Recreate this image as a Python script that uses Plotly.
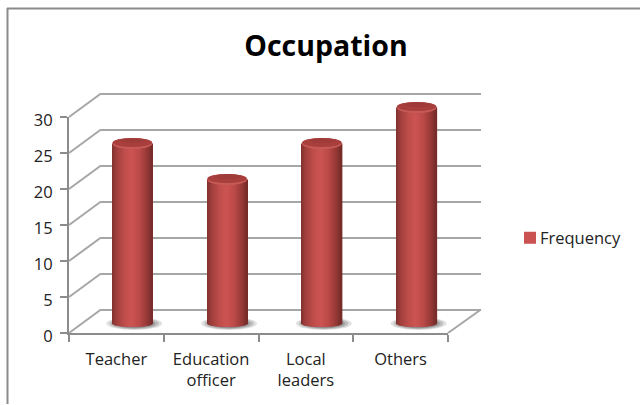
import math
import plotly.graph_objects as go

categories = ["Teacher", "Education<br>officer", "Local<br>leaders", "Others"]
frequency = [25, 20, 25, 30]
y_ticks = [0, 5, 10, 15, 20, 25, 30]
series_name = "Frequency"
title_text = "Occupation"

W, H = 640, 405
FONT = "'Open Sans', 'Noto Sans', sans-serif"
TXT = "#222222"
AXC = "#8c8c8c"
GRID = "#a6a6a6"

def px(x): return x / W
def py(y): return 1 - y / H

# frame in pixels: front plane, cylinder plane, back wall
FX0, FX1, FY0, FY1 = 69, 448, 333, 117
BX0, BX1, BY0, BY1 = 101, 481, 309.5, 93.5
CDX, CY0 = 16, 323.5
U = (FY0 - FY1) / 30          # px per value unit
XU = (FX1 - FX0) / 4          # px per category
PAD = 6                       # extra value units around the cylinder plane
WALL_PAD = 1                  # keeps the 0 and 30 gridlines inside the wall's range

fig = go.Figure()

# back wall subplot carries the native gridlines
fig.add_trace(go.Scatter(x=list(range(len(categories))), y=frequency, xaxis="x", yaxis="y", mode="markers",
                         marker=dict(opacity=0), showlegend=False, hoverinfo="skip"))

# cylinder shading profile (t in -1..1 -> colour)
stops = [(-1.0, (128, 48, 46)), (-0.78, (160, 62, 60)), (-0.35, (192, 78, 76)),
         (-0.02, (204, 84, 82)), (0.35, (188, 74, 72)), (0.75, (150, 56, 54)),
         (1.0, (116, 43, 41))]

def shade(t):
    for (a, ca), (b, cb) in zip(stops, stops[1:]):
        if a <= t <= b:
            f = (t - a) / (b - a)
            return "rgb(%d,%d,%d)" % tuple(round(ca[k] + (cb[k] - ca[k]) * f) for k in range(3))
    return "rgb(120,45,43)"

HALF = 20 / XU
BOT_H = 3.4 / U
N = 40
xs = list(range(len(categories)))
for i in range(N):
    t = -1 + (i + 0.5) * 2 / N
    w = 2 * HALF / N
    drop = BOT_H * math.sqrt(max(0, 1 - t * t))
    fig.add_trace(go.Bar(
        x=xs, y=[v + drop for v in frequency], base=[-drop] * len(frequency),
        width=w * 1.5, offset=t * HALF - w / 2,
        marker=dict(color=shade(t), line=dict(width=0)),
        xaxis="x2", yaxis="y2", cliponaxis=False, hoverinfo="skip",
        showlegend=(i == N // 2), name=series_name))

shapes = []
# shadows + caps, positioned from the data
CAP_H = 5.6 / U
for i, v in zip(xs, frequency):
    for k, op in zip((1.0, 0.88, 0.76, 0.64), (0.18, 0.25, 0.3, 0.35)):
        shapes.append(dict(type="circle", xref="x2", yref="y2", layer="below",
                           x0=i + 0.02 - 28 * k / XU, x1=i + 0.02 + 28 * k / XU,
                           y0=-6.5 * k / U, y1=6.5 * k / U,
                           fillcolor="#555555", opacity=op, line_width=0))
    shapes.append(dict(type="circle", xref="x2", yref="y2", layer="above",
                       x0=i - HALF, x1=i + HALF, y0=v - CAP_H, y1=v + CAP_H,
                       fillcolor="#c65a57", line_width=0))
    shapes.append(dict(type="circle", xref="x2", yref="y2", layer="above",
                       x0=i - HALF * 0.98, x1=i + HALF * 0.98,
                       y0=v - CAP_H * 0.62, y1=v + CAP_H,
                       fillcolor="#a83f3d", line_width=0))
    shapes.append(dict(type="circle", xref="x2", yref="y2", layer="above",
                       x0=i - HALF * 0.6, x1=i + HALF * 0.7,
                       y0=v + CAP_H * 0.1, y1=v + CAP_H * 0.95,
                       fillcolor="#963734", opacity=0.5, line_width=0))

# oblique floor/wall connectors
for v in y_ticks:
    shapes.append(dict(type="line", xref="paper", yref="paper", layer="below",
                       x0=px(FX0), y0=py(FY0 - v * U), x1=px(BX0), y1=py(BY0 - v * U),
                       line=dict(color=GRID, width=2)))
shapes.append(dict(type="line", xref="paper", yref="paper", layer="below",
                   x0=px(FX1), y0=py(FY0), x1=px(BX1), y1=py(BY0),
                   line=dict(color=GRID, width=2)))
# outer chart frame
shapes.append(dict(type="line", xref="paper", yref="paper", x0=px(7), x1=1, y0=py(8.5), y1=py(8.5),
                   line=dict(color="#8a8a8a", width=2)))
shapes.append(dict(type="line", xref="paper", yref="paper", x0=px(7.5), x1=px(7.5), y0=py(8), y1=py(404),
                   line=dict(color="#8a8a8a", width=2)))

fig.update_layout(
    width=W, height=H, autosize=False, margin=dict(l=0, r=0, t=0, b=0, autoexpand=False),
    paper_bgcolor="white", plot_bgcolor="rgba(0,0,0,0)",
    barmode="overlay", shapes=shapes,
    font=dict(family=FONT, color=TXT, size=15),
    title=dict(text=title_text, x=326 / W, xanchor="center", y=py(46), yanchor="middle",
               font=dict(family=FONT, size=28.5, color="#000000", weight="bold")),
    legend=dict(x=px(510), y=py(238), xanchor="left", yanchor="middle",
                bgcolor="rgba(0,0,0,0)", font=dict(size=16.5, color=TXT),
                itemclick=False, itemdoubleclick=False),
    # back wall: native gridlines
    xaxis=dict(domain=[px(BX0), px(BX1)], range=[-0.5, 3.5], visible=False, anchor="y"),
    yaxis=dict(domain=[py(BY0 + WALL_PAD * U), py(BY1 - WALL_PAD * U)], range=[-WALL_PAD, 30 + WALL_PAD],
               tickvals=y_ticks, showticklabels=False,
               ticks="", showgrid=True, gridcolor=GRID, gridwidth=2, zeroline=False,
               showline=False, anchor="x"),
    # cylinder plane
    xaxis2=dict(domain=[px(FX0 + CDX), px(FX1 + CDX)], range=[-0.5, 3.5], visible=False, anchor="y2"),
    yaxis2=dict(domain=[py(CY0 + PAD * U), py(CY0 - 30 * U - PAD * U)], range=[-PAD, 30 + PAD],
                visible=False, anchor="x2"),
    # front plane: labelled axes
    xaxis3=dict(domain=[px(FX0), px(FX1)], type="category", categoryorder="array",
                categoryarray=categories, tickmode="array", tickvals=categories, ticktext=categories,
                range=[-0.5, 3.5], tickson="boundaries", ticks="outside", ticklen=7,
                tickcolor=AXC, tickwidth=2, showline=True, linecolor=AXC, linewidth=2,
                showgrid=False, anchor="y3", ticklabelstandoff=10, tickfont=dict(size=16.5, color=TXT)),
    yaxis3=dict(domain=[py(FY0), py(FY1)], range=[0, 30], tickvals=y_ticks, ticks="outside",
                ticklen=7, tickcolor=AXC, tickwidth=2, showline=True, linecolor=AXC, linewidth=2,
                showgrid=False, zeroline=False, anchor="x3", ticklabelstandoff=4, ticklabelshift=3,
                tickfont=dict(size=16.5, color=TXT)),
)
# keeps the labelled front axes on the chart's own categories and values
fig.add_trace(go.Scatter(x=categories, y=frequency, xaxis="x3", yaxis="y3", mode="markers",
                         marker=dict(opacity=0), showlegend=False, hoverinfo="skip"))

fig.write_html("out.html", config={"displayModeBar": False},
               post_script="document.body.style.margin='0';document.body.style.overflow='hidden';"
                           "document.querySelectorAll('.legendtext').forEach(function(t){t.setAttribute('x','30');});")
